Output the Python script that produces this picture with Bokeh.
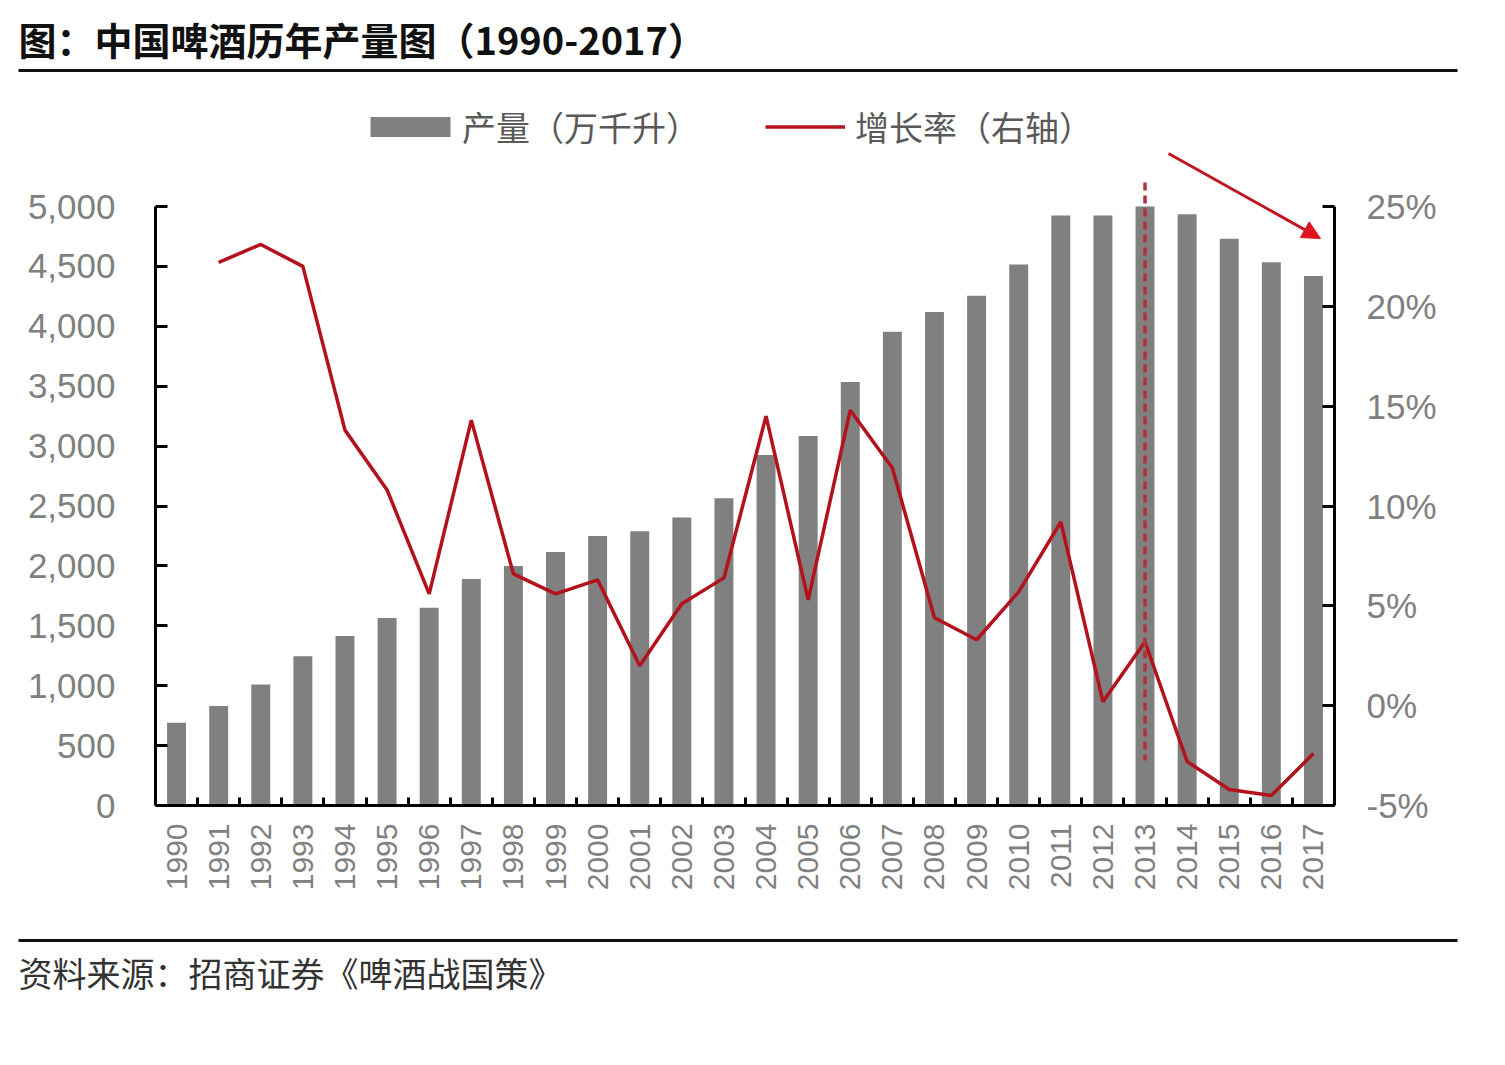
import numpy as np
from bokeh.plotting import figure
from bokeh.layouts import column
from bokeh.models import (Range1d, LinearAxis, FixedTicker, NumeralTickFormatter,
                          PrintfTickFormatter, Arrow, NormalHead, Legend, LegendItem)
from bokeh.core.properties import value
from bokeh.embed import file_html
from bokeh.resources import INLINE

# ---------------- data ----------------
years = list(range(1990, 2018))
production = [690, 830, 1010, 1245, 1415, 1565, 1650, 1890, 2000, 2115,
              2250, 2290, 2405, 2565, 2925, 3085, 3535, 3955, 4120, 4255,
              4515, 4925, 4925, 5000, 4935, 4730, 4535, 4420]
growth_years = years[1:]
growth = [22.2, 23.1, 22.0, 13.8, 10.8, 5.6, 14.3, 6.6, 5.6, 6.3,
          2.0, 5.1, 6.4, 14.5, 5.3, 14.8, 11.9, 4.4, 3.3, 5.7,
          9.2, 0.2, 3.2, -2.8, -4.2, -4.5, -2.4]
left_ticks = list(range(0, 5001, 500))
right_ticks = [-5, 0, 5, 10, 15, 20, 25]
title_text = "图：中国啤酒历年产量图（1990-2017）"
legend_labels = ["产量（万千升）", "增长率（右轴）"]
source_text = "资料来源：招商证券《啤酒战国策》"
highlight_year = 2013

# ---------------- layout constants (page px) ----------------
W = 1489
HEAD_H = 95          # header figure height
MAIN_H = 805         # main figure: page y 95 .. 900
FOOT_H = 149         # footer: page y 900 .. 1049
FL, FR, FT_AX, FB = 155, 1334, 206, 805   # axis frame (5000 / 25% at FT_AX)
FTOP = HEAD_H        # actual frame top of the main figure

CJK = "Noto Sans CJK SC"
GRAY_TXT = "#808080"
FONT = "Liberation Sans"


def blank_fig(h):
    f = figure(width=W, height=h, output_backend="svg", toolbar_location=None,
               x_range=Range1d(0, W), y_range=Range1d(h, 0),
               x_axis_location=None, y_axis_location=None,
               min_border=0, min_border_left=0, min_border_right=0,
               min_border_top=0, min_border_bottom=0, frame_align=False)
    f.grid.visible = False
    f.outline_line_color = None
    f.background_fill_color = "white"
    f.border_fill_color = "white"
    return f


# ---------------- header ----------------
head = blank_fig(HEAD_H)
head.text(x=[18], y=[38], text=[title_text], text_baseline="middle", text_align="left",
          text_font=value(CJK), text_font_style="bold", text_font_size="38px",
          text_color="#111111")
head.segment(x0=[18], y0=[70], x1=[1457], y1=[70], line_color="#111111", line_width=3)

# ---------------- main chart ----------------
y_end = 5000.0 * (FB - FTOP) / (FB - FT_AX)
pct_end = -5 + 30.0 * (FB - FTOP) / (FB - FT_AX)

p = figure(width=W, height=MAIN_H, output_backend="svg", toolbar_location=None,
           x_range=Range1d(1989.5, 2017.5), y_range=Range1d(0, y_end),
           min_border_left=FL, min_border_right=W - FR,
           min_border_top=0, min_border_bottom=(HEAD_H + MAIN_H) - FB, frame_align=False)
p.extra_y_ranges = {"pct": Range1d(-5, pct_end)}
p.grid.visible = False
p.outline_line_color = None
p.background_fill_color = "white"
p.border_fill_color = "white"

# x axis
xa = p.xaxis[0]
xa.ticker = FixedTicker(ticks=years, minor_ticks=[y + 0.5 for y in years[:-1]])
xa.major_tick_in = 0
xa.major_tick_out = 0
xa.minor_tick_in = 8
xa.minor_tick_out = 0
xa.minor_tick_line_width = 3
xa.minor_tick_line_color = "black"
xa.axis_line_width = 3
xa.axis_line_color = "black"
xa.major_label_orientation = np.pi / 2
xa.major_label_standoff = 18
xa.major_label_text_font_size = "30px"
xa.major_label_text_color = GRAY_TXT
xa.major_label_text_font = FONT

# left axis
ya = p.yaxis[0]
ya.bounds = (0, 5000)
ya.ticker = FixedTicker(ticks=left_ticks)
ya.formatter = NumeralTickFormatter(format="0,0")
ya.major_tick_in = 12
ya.major_tick_out = 0
ya.major_tick_line_width = 3
ya.major_tick_line_color = "black"
ya.minor_tick_line_color = None
ya.axis_line_width = 3
ya.axis_line_color = "black"
ya.major_label_standoff = 40
ya.major_label_text_font_size = "35px"
ya.major_label_text_color = GRAY_TXT
ya.major_label_text_font = FONT

# right axis
ra = LinearAxis(y_range_name="pct", ticker=FixedTicker(ticks=right_ticks),
                formatter=PrintfTickFormatter(format="%d%%"), bounds=(-5, 25))
ra.major_tick_in = 12
ra.major_tick_out = 0
ra.major_tick_line_width = 3
ra.major_tick_line_color = "black"
ra.minor_tick_line_color = None
ra.axis_line_width = 3
ra.axis_line_color = "black"
ra.major_label_standoff = 32
ra.major_label_text_font_size = "35px"
ra.major_label_text_color = GRAY_TXT
ra.major_label_text_font = FONT
p.add_layout(ra, "right")

bars = p.vbar(x=years, top=production, width=0.45, fill_color="#808080", line_color=None)
line = p.line(growth_years, growth, y_range_name="pct", line_color="#b3121c", line_width=3.5)

# dashed marker for 2013
p.add_layout(Arrow(end=None, x_start=highlight_year, y_start=26.2, x_end=highlight_year, y_end=-2.75,
                   y_range_name="pct", line_color="#b3303a", line_width=3.5, line_dash="8 5"))


def dx(X):
    return 1989.5 + (X - FL) * 28.0 / (FR - FL)


def dy(Y):
    return (FB - Y) * 5000.0 / (FB - FT_AX)


# trend arrow
p.add_layout(Arrow(end=NormalHead(size=18, fill_color="#e0141e", line_color="#e0141e"),
                   x_start=dx(1168), y_start=dy(153), x_end=dx(1320), y_end=dy(238),
                   line_color="#c0141e", line_width=3))

# legends (one per item so the swatch sizes can differ)
common = dict(orientation="horizontal", padding=0, margin=0, border_line_color=None,
              background_fill_alpha=0, label_text_font=CJK, label_text_font_size="34px",
              label_text_color="#595959")
leg_bar = Legend(items=[LegendItem(label=legend_labels[0], renderers=[bars])],
                 location=(360 - FL, FB - 151), glyph_width=100, glyph_height=25,
                 label_standoff=2, **common)
leg_line = Legend(items=[LegendItem(label=legend_labels[1], renderers=[line])],
                  location=(765 - FL, FB - 151), glyph_width=80, glyph_height=25,
                  label_standoff=10, **common)
p.add_layout(leg_bar, "center")
p.add_layout(leg_line, "center")

# ---------------- footer ----------------
foot = blank_fig(FOOT_H)
foot.segment(x0=[18], y0=[40], x1=[1457], y1=[40], line_color="#111111", line_width=3)
foot.text(x=[18], y=[72], text=[source_text], text_baseline="middle", text_align="left",
          text_font=value(CJK), text_font_size="34px", text_color="#333333")

layout = column(head, p, foot, spacing=0)
open("out.html", "w").write(file_html(layout, INLINE))
